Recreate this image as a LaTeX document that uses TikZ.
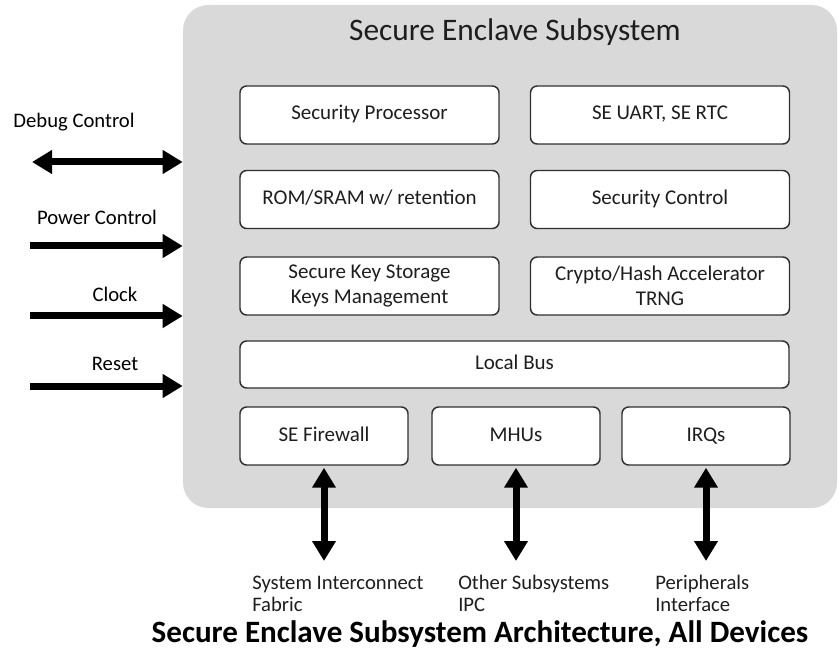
\documentclass[tikz,border=0pt]{standalone}
\usepackage{fontspec}
\setmainfont{Carlito}
\usetikzlibrary{arrows.meta}

\definecolor{encgrey}{HTML}{D9D9D9}
\definecolor{boxline}{HTML}{303030}
\definecolor{inktext}{HTML}{1E1E1E}

\tikzset{
  enclave/.style={draw=none, fill=encgrey, rounded corners=19pt,
    minimum width=490.5pt, minimum height=377.25pt, inner sep=0pt},
  block/.style={draw=boxline, line width=1.1pt, fill=white, rounded corners=5pt,
    minimum width=194.25pt, minimum height=43.5pt, inner sep=0pt, align=center,
    text=inktext, font=\fontsize{15.75}{19}\selectfont},
  oneline/.style={block, text height=11pt, text depth=3.5pt},
  smallblock/.style={oneline, minimum width=126pt},
  sidelabel/.style={inner sep=0pt, text=black, font=\fontsize{15.5}{19}\selectfont},
  footlabel/.style={inner sep=0pt, text=inktext, anchor=base west,
    font=\fontsize{15.5}{19}\selectfont},
  fat/.style={line width=5.25pt, draw=black},
  oneway/.style={fat, -{Triangle[length=15pt, width=17pt]}},
  twoway/.style={fat, {Triangle[length=15pt, width=17pt]}-{Triangle[length=15pt, width=17pt]}},
}

\begin{document}
\begin{tikzpicture}[x=0.75pt, y=-0.75pt]
  \useasboundingbox (0,0) rectangle (838,648);

  % enclave container and its heading
  \node[enclave] (enc) at (510,256.5) {};
  \node[inner sep=0pt, text=inktext, anchor=base, font=\fontsize{23.5}{28}\selectfont]
    (title) at (515,41) {Secure Enclave Subsystem};

  % internal blocks
  \node[oneline] (sp)     at (369.5,115)   {Security Processor};
  \node[oneline] (uart)   at (660,115)     {SE UART, SE RTC};
  \node[oneline] (rom)    at (369.5,199.5) {ROM/SRAM w/ retention};
  \node[oneline] (sctl)   at (660,199.5)   {Security Control};
  \node[block] (keys)   at (369.5,286)   {Secure Key Storage\\Keys Management};
  \node[block] (crypto) at (660,286)     {Crypto/Hash Accelerator\\TRNG};
  \node[oneline, minimum width=411.75pt, minimum height=35.25pt] (bus) at (514.5,364.5) {Local Bus};
  \node[smallblock] (fw)  at (324,436) {SE Firewall};
  \node[smallblock] (mhu) at (516,436) {MHUs};
  \node[smallblock] (irq) at (706,436) {IRQs};

  % control inputs on the left
  \node[sidelabel] (dbgtxt) at (74,122)  {Debug Control};
  \node[sidelabel] (pwrtxt) at (97,217)  {Power Control};
  \node[sidelabel] (clktxt) at (115,294) {Clock};
  \node[sidelabel] (rsttxt) at (115,364) {Reset};

  \coordinate (dbgL) at (32,162);
  \coordinate (pwrL) at (30,246);
  \coordinate (clkL) at (30,316);
  \coordinate (rstL) at (30,386);
  \draw[twoway] (dbgL) -- (dbgL -| enc.west);
  \draw[oneway] (pwrL) -- (pwrL -| enc.west);
  \draw[oneway] (clkL) -- (clkL -| enc.west);
  \draw[oneway] (rstL) -- (rstL -| enc.west);

  % external interfaces below
  \coordinate (fwB)  at (324,561);
  \coordinate (mhuB) at (516,561);
  \coordinate (irqB) at (706,561);
  \draw[twoway] ([yshift=-1.5pt]fw.south)  -- (fwB);
  \draw[twoway] ([yshift=-1.5pt]mhu.south) -- (mhuB);
  \draw[twoway] ([yshift=-1.5pt]irq.south) -- (irqB);

  \node[footlabel] (sysA) at (252,589) {System Interconnect};
  \node[footlabel] (sysB) at (252,611) {Fabric};
  \node[footlabel] (ipcA) at (458,589) {Other Subsystems};
  \node[footlabel] (ipcB) at (458,611) {IPC};
  \node[footlabel] (perA) at (655,589) {Peripherals};
  \node[footlabel] (perB) at (655,611) {Interface};

  % white caption band that trims the lower label line
  \fill[white] (140,612) rectangle (820,648);

  % figure caption
  \node[inner sep=0pt, anchor=base, font=\bfseries\fontsize{23.3}{28}\selectfont]
    (caption) at (480,642) {Secure Enclave Subsystem Architecture, All Devices};
\end{tikzpicture}
\end{document}
